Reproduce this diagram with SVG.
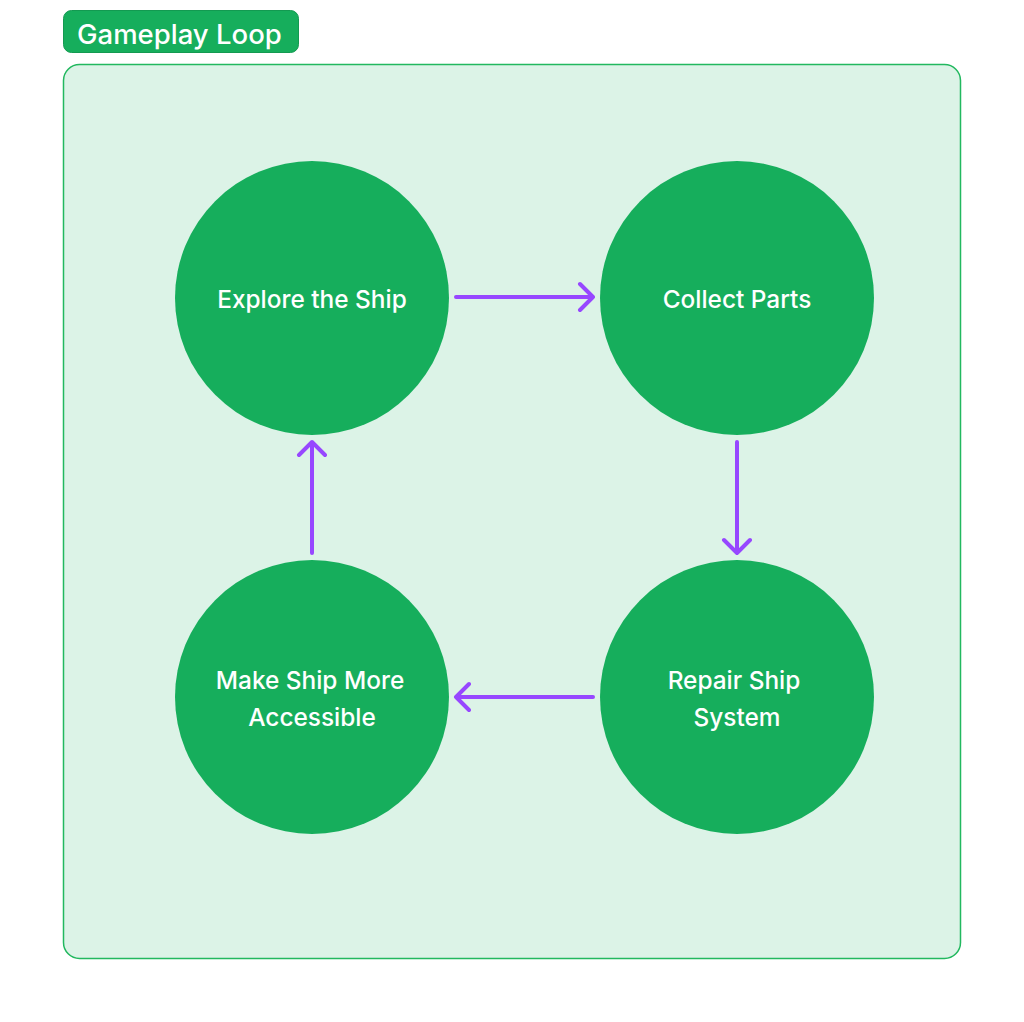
<svg xmlns="http://www.w3.org/2000/svg" width="1024" height="1022" viewBox="0 0 1024 1022">
<style>
.node{fill:#16ae5c}
.lbl{font-family:Inter,"Noto Sans",sans-serif;font-size:24.4px;font-weight:500;fill:#ffffff;text-anchor:middle;dominant-baseline:central}
.edge{fill:none;stroke:#9747ff;stroke-width:4;stroke-linecap:round;stroke-linejoin:round}
</style>
<rect width="1024" height="1022" fill="#ffffff"/>
<g id="container">
<rect x="63.5" y="64.5" width="897" height="894" rx="16" fill="#dcf3e7" stroke="#22b85f" stroke-width="1.5"/>
</g>
<g id="title">
<rect x="63.5" y="10.5" width="235" height="42" rx="8" fill="#16ae5c" stroke="#139a51" stroke-width="1"/>
<text x="77" y="34" font-family="Inter,'Noto Sans',sans-serif" font-size="27.5" font-weight="500" fill="#ffffff" dominant-baseline="central">Gameplay Loop</text>
</g>
<g id="connectors">
<path class="edge" d="M456 297 H593 M580 284 L593 297 L580 310"/>
<path class="edge" d="M737 442 V553 M724 540 L737 553 L750 540"/>
<path class="edge" d="M593 697 H456 M469 684 L456 697 L469 710"/>
<path class="edge" d="M312 553 V442 M299 455 L312 442 L325 455"/>
</g>
<g id="explore">
<circle class="node" cx="312" cy="298" r="137"/>
<text class="lbl" x="312" y="299">Explore the Ship</text>
</g>
<g id="collect">
<circle class="node" cx="737" cy="298" r="137"/>
<text class="lbl" x="737" y="299">Collect Parts</text>
</g>
<g id="repair">
<circle class="node" cx="737" cy="697" r="137"/>
<text class="lbl" x="734" y="680">Repair Ship</text>
<text class="lbl" x="737" y="717">System</text>
</g>
<g id="accessible">
<circle class="node" cx="312" cy="697" r="137"/>
<text class="lbl" x="310" y="680">Make Ship More</text>
<text class="lbl" x="312" y="717">Accessible</text>
</g>
</svg>
